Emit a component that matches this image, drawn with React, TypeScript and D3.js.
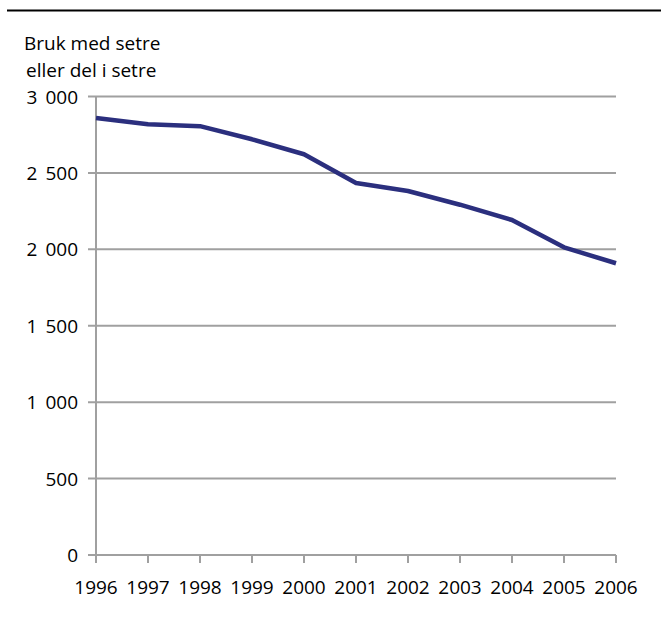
import React from "react";
import * as d3 from "d3";

const years = [1996, 1997, 1998, 1999, 2000, 2001, 2002, 2003, 2004, 2005, 2006];
const values = [2860, 2818, 2806, 2720, 2622, 2434, 2382, 2292, 2192, 2013, 1909];
const yTicks = [0, 500, 1000, 1500, 2000, 2500, 3000];
const titleLines = ["Bruk med setre", "eller del i setre"];

export default function App() {
  const W = 661, H = 617;
  const x = d3.scaleLinear().domain([1996, 2006]).range([96, 616]);
  const y = d3.scaleLinear().domain([0, 3000]).range([555, 96.5]);
  const line = d3.line<number>().x((_, i) => x(years[i])).y((d) => y(d));
  const font = "'Open Sans', sans-serif";
  const grid = "#a0a0a0";
  const fs = 19;
  const label = (v: number) =>
    v >= 1000 ? (
      <>
        <tspan>{Math.floor(v / 1000)}</tspan>
        <tspan dx={8}>{String(v % 1000).padStart(3, "0")}</tspan>
      </>
    ) : (
      <tspan>{v}</tspan>
    );
  return (
    <svg width={W} height={H} style={{ position: "absolute", left: 0, top: 0 }} fontFamily={font}>
      <rect width={W} height={H} fill="#fff" />
      <line x1={7} x2={661} y1={10.5} y2={10.5} stroke="#000" strokeWidth={2} />
      <text x={24} y={50} fontSize={fs} fill="#000">{titleLines[0]}</text>
      <text x={26} y={77} fontSize={fs} fill="#000">{titleLines[1]}</text>
      {yTicks.map((t) => (
        <g key={t}>
          <line x1={88} x2={616} y1={y(t)} y2={y(t)} stroke={grid} strokeWidth={2} />
          <text x={78} y={y(t) + 7} fontSize={fs} textAnchor="end" fill="#000">{label(t)}</text>
        </g>
      ))}
      <line x1={96} x2={96} y1={y(3000)} y2={555} stroke={grid} strokeWidth={2} />
      {years.map((yr) => (
        <g key={yr}>
          <line x1={x(yr)} x2={x(yr)} y1={555} y2={563} stroke={grid} strokeWidth={2} />
          <text x={x(yr)} y={594} fontSize={fs} textAnchor="middle" fill="#000">{yr}</text>
        </g>
      ))}
      <path d={line(values) || ""} fill="none" stroke="#2b2f7e" strokeWidth={4.5} strokeLinejoin="round" />
    </svg>
  );
}
